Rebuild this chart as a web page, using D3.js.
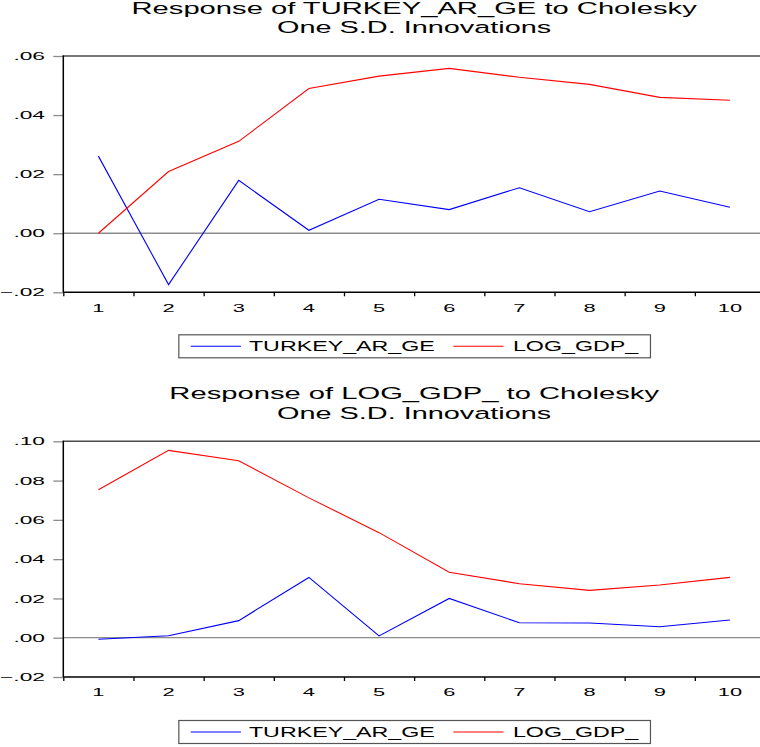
<!DOCTYPE html>
<html>
<head>
<meta charset="utf-8">
<script src="https://cdn.jsdelivr.net/npm/d3@7"></script>
<style>
  html, body { margin: 0; padding: 0; background: #fff; }
  svg { display: block; }
  text { font-family: "Liberation Sans", Arial, sans-serif; fill: #000; }
</style>
</head>
<body>
<svg id="chart" width="760" height="747"></svg>
<script>
// Impulse-response horizons
const periods = [1, 2, 3, 4, 5, 6, 7, 8, 9, 10];
const seriesNames = ["TURKEY_AR_GE", "LOG_GDP_"];

// Response of TURKEY_AR_GE
const turkeyOnTurkey = [0.0261, -0.0174, 0.0179, 0.0010, 0.0115, 0.0080, 0.0154, 0.0073, 0.0143, 0.0088];
const gdpOnTurkey    = [0.0000, 0.0209, 0.0311, 0.0490, 0.0532, 0.0558, 0.0528, 0.0504, 0.0460, 0.0450];

// Response of LOG_GDP_
const turkeyOnGdp = [-0.0008, 0.0010, 0.0087, 0.0307, 0.0009, 0.0200, 0.0076, 0.0075, 0.0056, 0.0090];
const gdpOnGdp    = [0.0753, 0.0954, 0.0901, 0.0712, 0.0535, 0.0333, 0.0275, 0.0241, 0.0268, 0.0307];

// Y tick values for each panel
const ticksTop = [-0.02, 0.00, 0.02, 0.04, 0.06];
const ticksBottom = [-0.02, 0.00, 0.02, 0.04, 0.06, 0.08, 0.10];

const titlesTop = ["Response of TURKEY_AR_GE to Cholesky", "One S.D. Innovations"];
const titlesBottom = ["Response of LOG_GDP_ to Cholesky", "One S.D. Innovations"];

const colors = ["#0000ff", "#ff0000"];

const svg = d3.select("#chart");

// Horizontally stretched text: draw at an anchor, then widen the glyphs.
function stretchedText(g, str, x, y, size, k, anchor) {
  const t = g.append("text")
    .attr("font-size", size)
    .attr("text-anchor", anchor)
    .text(str);
  t.attr("transform", `translate(${x},${y}) scale(${k},1)`);
  return t;
}

const left = 63.3, right = 765;
const xLin = d3.scaleLinear().domain([0.5, 10.5]).range([left, right]);
const xBand = d3.scaleBand().domain(periods).range([left, right]);
const cx = d => xBand(d) + xBand.bandwidth() / 2;

const fmt = v => {
  const s = d3.format(".2f")(v);
  return s.replace("0.", ".");
};

function panel(cfg) {
  const g = svg.append("g");
  const y = d3.scaleLinear().domain(cfg.domain).range([cfg.bottom, cfg.top]);

  // Title
  stretchedText(g, cfg.titles[0], (left + right) / 2, cfg.top - 42.5, 16.3, 1.79, "middle");
  stretchedText(g, cfg.titles[1], (left + right) / 2, cfg.top - 22.7, 16.3, 1.77, "middle");

  // Top frame line
  g.append("line")
    .attr("x1", left).attr("x2", right + 10)
    .attr("y1", cfg.top).attr("y2", cfg.top)
    .attr("stroke", "#4a4a4a").attr("stroke-width", 1.5);

  // Zero line
  g.append("line")
    .attr("x1", left).attr("x2", right + 10)
    .attr("y1", y(0)).attr("y2", y(0))
    .attr("stroke", "#8c8c8c").attr("stroke-width", 1.3);

  // Y axis ticks (grey) and labels
  const yAxis = d3.axisLeft(y).tickValues(cfg.ticks).tickSize(10).tickFormat("");
  const ya = g.append("g").attr("transform", `translate(${left},0)`).call(yAxis);
  ya.select(".domain").remove();
  ya.selectAll(".tick line").attr("stroke", "#8c8c8c").attr("stroke-width", 1.3);
  cfg.ticks.forEach(v => {
    stretchedText(g, fmt(v), 45, y(v) + 4.1, 11.5, 1.98, "end");
  });

  // Left axis line
  g.append("line")
    .attr("x1", left).attr("x2", left)
    .attr("y1", cfg.top - 0.7).attr("y2", cfg.bottom)
    .attr("stroke", "#000").attr("stroke-width", 1.5);

  // X axis with ticks between periods
  const xAxis = d3.axisBottom(xLin)
    .tickValues(d3.range(0.5, 10.5, 1))
    .tickSize(4).tickSizeOuter(0).tickFormat("");
  const xa = g.append("g").attr("transform", `translate(0,${cfg.bottom})`).call(xAxis);
  xa.select(".domain").attr("stroke", "#000").attr("stroke-width", 1.5)
    .attr("d", `M${left},0H${right + 10}`);
  xa.selectAll(".tick line").attr("stroke", "#000").attr("stroke-width", 1.3);
  periods.forEach(p => {
    stretchedText(g, String(p), cx(p), cfg.bottom + 19.4, 11.5, 1.9, "middle");
  });

  // Response lines
  const line = d3.line().x((d, i) => cx(periods[i])).y(d => y(d));
  cfg.series.forEach((s, i) => {
    g.append("path")
      .datum(s)
      .attr("fill", "none")
      .attr("stroke", colors[i])
      .attr("stroke-width", 1.1)
      .attr("d", line);
  });

  // Legend
  const lg = g.append("g");
  const ly = cfg.legendTop;
  const lh = 23;
  const k = 1.55;
  let xCursor = 0;
  seriesNames.forEach((name, i) => {
    const startLine = xCursor + (i === 0 ? 12.4 : 18.4);
    const endLine = startLine + 50.2;
    const tx = endLine + (i === 0 ? 8 : 9.3);
    const t = lg.append("text").attr("font-size", 15).text(name);
    const w = t.node().getComputedTextLength() * k;
    t.attr("transform", `translate(${tx},${ly + lh / 2 + 5.2}) scale(${k},1)`);
    lg.append("line")
      .attr("x1", startLine).attr("x2", endLine)
      .attr("y1", ly + lh / 2 + 0.5).attr("y2", ly + lh / 2 + 0.5)
      .attr("stroke", colors[i]).attr("stroke-width", 1.1);
    xCursor = tx + w;
  });
  const boxW = xCursor + 11.7;
  lg.insert("rect", ":first-child")
    .attr("x", 0.5).attr("y", ly + 0.5)
    .attr("width", boxW).attr("height", lh)
    .attr("fill", "#fff").attr("stroke", "#555").attr("stroke-width", 1.2);
  lg.attr("transform", `translate(${(left + right) / 2 - boxW / 2},0)`);
}

panel({
  top: 56, bottom: 292.3, domain: [-0.02, 0.06], ticks: ticksTop,
  titles: titlesTop, series: [turkeyOnTurkey, gdpOnTurkey], legendTop: 334.3
});
panel({
  top: 441.3, bottom: 677, domain: [-0.02, 0.10], ticks: ticksBottom,
  titles: titlesBottom, series: [turkeyOnGdp, gdpOnGdp], legendTop: 720
});
</script>
</body>
</html>
